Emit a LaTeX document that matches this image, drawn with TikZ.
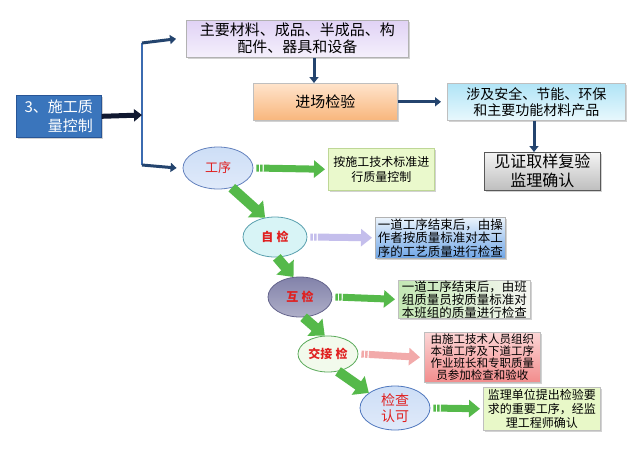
\documentclass[tikz,border=0pt]{standalone}
\usepackage{fontspec}
\setmainfont{Noto Sans CJK SC}
\usetikzlibrary{arrows.meta,shadows,calc,shapes.geometric}
\definecolor{navy}{HTML}{24446E}
\definecolor{vblue}{HTML}{3B6BB0}
\definecolor{gr}{HTML}{55B94A}
\definecolor{redt}{HTML}{E02020}
\definecolor{qcblue}{RGB}{58,117,188}
\definecolor{qcdraw}{RGB}{40,85,150}
\definecolor{matT}{RGB}{224,210,245}
\definecolor{matB}{RGB}{245,240,252}
\definecolor{orT}{RGB}{255,228,204}
\definecolor{orB}{RGB}{248,182,124}
\definecolor{cyT}{RGB}{176,228,246}
\definecolor{cyB}{RGB}{232,248,253}
\definecolor{gyT}{RGB}{244,244,244}
\definecolor{gyB}{RGB}{190,190,190}
\definecolor{gxD}{RGB}{100,130,190}
\definecolor{gxT}{RGB}{205,222,246}
\definecolor{gxB}{RGB}{224,234,250}
\definecolor{stdD}{RGB}{190,215,150}
\definecolor{stdF}{RGB}{234,249,204}
\definecolor{zjD}{RGB}{90,160,175}
\definecolor{zjF}{RGB}{216,244,246}
\definecolor{zdT}{RGB}{236,244,252}
\definecolor{zdB}{RGB}{110,165,230}
\definecolor{lav}{RGB}{196,190,236}
\definecolor{hjD}{RGB}{100,100,140}
\definecolor{hjT}{RGB}{130,130,170}
\definecolor{hjB}{RGB}{175,175,200}
\definecolor{hdL}{RGB}{196,232,180}
\definecolor{hdR}{RGB}{246,246,242}
\definecolor{jjD}{RGB}{90,170,90}
\definecolor{jjF}{RGB}{242,250,236}
\definecolor{pkT}{RGB}{252,214,214}
\definecolor{pkB}{RGB}{242,140,140}
\definecolor{pkA}{RGB}{242,170,170}
\definecolor{jcD}{RGB}{80,120,190}
\definecolor{jlF}{RGB}{232,248,200}
\definecolor{blk}{RGB}{16,24,48}
\tikzset{
  box/.style={draw=#1, line width=0.6pt, anchor=north west, inner sep=0pt, align=center,
    drop shadow={opacity=0.35, shadow xshift=1.5pt, shadow yshift=-1.5pt}},
  ell/.style={ellipse, draw=#1, line width=0.8pt, inner sep=0pt, align=center,
    text=redt, font=\fontsize{12}{13}\selectfont\bfseries},
  navarrow/.style={draw=navy, line width=3pt, -{Triangle[width=9pt,length=6pt]}},
  blockarrow/.style={draw=#1, line width=7pt, -{Triangle[width=17pt,length=11pt]},
    dash pattern=on 2.5pt off 1.2pt on 2.5pt off 1.2pt on 300pt},
  diagarrow/.style={draw=gr, line width=10pt, -{Triangle[width=22pt,length=13pt]}},
}
\begin{document}
\begin{tikzpicture}[x=1pt,y=-1pt]
\useasboundingbox[fill=white] (0,0) rectangle (640,448);

% main box
\node[box=qcdraw, fill=qcblue, minimum width=85pt, minimum height=42pt,
  text=white, align=right, font=\fontsize{15}{19}\selectfont] (qc) at (16,95) {3、施工质\\量控制};

\coordinate (jt) at (142,43);
\coordinate (jm) at (142,115);
\coordinate (jb) at (142,165);
\draw[vblue, line width=2.5pt] (jt) -- (jb);

% top chain
\node[box=gray!60, top color=matT, bottom color=matB,
  minimum width=222pt, minimum height=37pt, font=\fontsize{15}{17}\selectfont] (mat) at (186,20)
  {主要材料、成品、半成品、构\\配件、器具和设备};
\node[box=gray!50, top color=orT, bottom color=orB,
  minimum width=144pt, minimum height=37pt, font=\fontsize{15}{17}\selectfont] (jc) at (253,83) {进场检验};
\node[box=gray!50, top color=cyT, bottom color=cyB,
  minimum width=178pt, minimum height=37pt, font=\fontsize{14}{16}\selectfont] (aq) at (447,83)
  {涉及安全、节能、环保\\和主要功能材料产品};
\node[box=gray!70!black, top color=gyT, bottom color=gyB,
  minimum width=116pt, minimum height=38pt, font=\fontsize{16}{19}\selectfont] (wit) at (484,152)
  {见证取样复验\\监理确认};

\draw[draw=blk, line width=5pt, -{Triangle[width=12pt,length=8pt]}] (qc.east) -- (jm);
\draw[navarrow] (jt) -- ($(mat.west)+(-10pt,0)$) ;
\draw[navarrow] (mat.south -| 314,0) -- (jc.north -| 314,0);
\draw[navarrow] (jc.east) -- ($(aq.west)+(-6pt,0)$);
\draw[navarrow] (aq.south -| 534,0) -- (wit.north -| 534,0);

% process chain
\node[ell=gxD, top color=gxT, bottom color=gxB,
  minimum width=70pt, minimum height=42pt, font=\fontsize{13}{14}\selectfont] (gx) at (218,168) {工序};
\draw[navarrow] (jb) -- ($(gx.west)+(-6pt,0)$);

\node[box=stdD, fill=stdF,
  minimum width=106pt, minimum height=42pt, font=\fontsize{12}{15}\selectfont] (std) at (328,148)
  {按施工技术标准进\\行质量控制};
\draw[blockarrow=gr] ($(gx.east)+(3pt,0)$) -- ($(std.west)+(-3pt,0)$);

\node[ell=zjD, fill=zjF, minimum width=64pt, minimum height=40pt] (zj) at (275,237) {自\;检};
\node[box=gray!60, top color=zdT, bottom color=zdB,
  minimum width=130pt, minimum height=41pt, font=\fontsize{12.5}{13.5}\selectfont] (zjd) at (375,217)
  {一道工序结束后，由操\\作者按质量标准对本工\\序的工艺质量进行检查};
\draw[blockarrow=lav] ($(zj.east)+(3pt,0)$) -- ($(zjd.west)+(-3pt,0)$);

\node[ell=hjD, top color=hjT, bottom color=hjB, minimum width=64pt, minimum height=40pt] (hj) at (300,297) {互\;检};
\node[box=gray!50, left color=hdL, right color=hdR,
  minimum width=132pt, minimum height=38pt, font=\fontsize{12.5}{13}\selectfont] (hjd) at (398,280)
  {一道工序结束后，由班\\组质量员按质量标准对\\本班组的质量进行检查};
\draw[blockarrow=gr] ($(hj.east)+(3pt,0)$) -- ($(hjd.west)+(-3pt,0)$);

\node[ell=jjD, fill=jjF, minimum width=60pt, minimum height=36pt] (jj) at (328,354) {交接\;检};
\node[box=gray!50, top color=pkT, bottom color=pkB,
  minimum width=116pt, minimum height=50pt, font=\fontsize{11.5}{11.8}\selectfont] (jjd) at (424,332)
  {由施工技术人员组织\\本道工序及下道工序\\作业班长和专职质量\\员参加检查和验收};
\draw[blockarrow=pkA] ($(jj.east)+(3pt,0)$) -- ($(jjd.west)+(-4pt,0)$);

\node[ell=jcD, top color=gxT, bottom color=gxB,
  minimum width=70pt, minimum height=44pt, font=\fontsize{14}{16}\selectfont] (jc2) at (395,408) {检查\\认可};
\node[box=gray!50, fill=jlF,
  minimum width=117pt, minimum height=43pt, font=\fontsize{12}{14}\selectfont] (jld) at (483,387)
  {监理单位提出检验要\\求的重要工序，经监\\理工程师确认};
\draw[blockarrow=gr] ($(jc2.east)+(3pt,0)$) -- ($(jld.west)+(-3pt,0)$);

% diagonal arrows
\draw[diagarrow] (gx.-55) -- (zj.117);
\draw[diagarrow] (zj.-85) -- (hj.108);
\draw[diagarrow] (hj.-80) -- (jj.100);
\draw[diagarrow] (jj.-60) -- (jc2.150);
\end{tikzpicture}
\end{document}
